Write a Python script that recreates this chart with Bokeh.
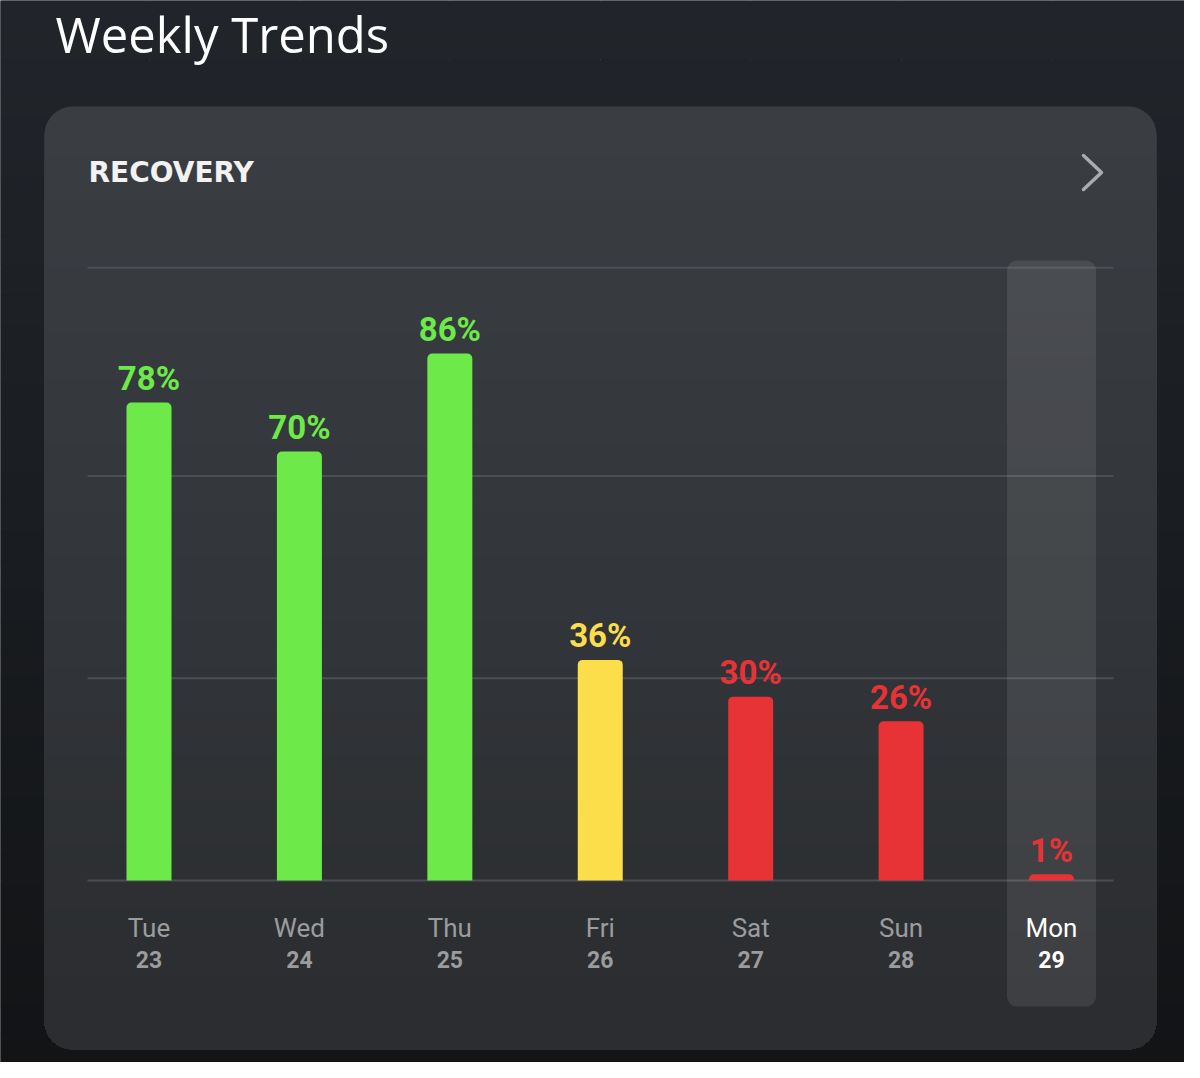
from bokeh.plotting import figure
from bokeh.models import Range1d, ColumnDataSource, Label
from bokeh.core.properties import value
from bokeh.embed import file_html
from bokeh.resources import INLINE

# ---------------- data ----------------
days = ["Tue", "Wed", "Thu", "Fri", "Sat", "Sun", "Mon"]
dates = ["23", "24", "25", "26", "27", "28", "29"]
recovery = [78, 70, 86, 36, 30, 26, 1]
grid_levels = [0, 33, 66, 100]
highlight_day = "Mon"
title_text = "Weekly Trends"
card_title = "RECOVERY"

# ---------------- layout helpers (reference pixels -> data) ----------------
W, H = 1184, 1062
PX_PER_PCT = 6.128
BASE_Y = 880
STEP = 150.42
FIRST_X = 148.5


def dx(X):
    return (X - FIRST_X) / STEP


def dy(Y):
    return (BASE_Y - Y) / PX_PER_PCT


def lerp_hex(c1, c2, t):
    a = [int(c1[i:i + 2], 16) for i in (1, 3, 5)]
    b = [int(c2[i:i + 2], 16) for i in (1, 3, 5)]
    return "#" + "".join("%02x" % round(a[k] + (b[k] - a[k]) * t) for k in range(3))


def zone_color(v):
    if v >= 67:
        return "#6de94a"
    if v >= 34:
        return "#fcdd4a"
    return "#e73336"


xpos = list(range(len(days)))
hi_pos = days.index(highlight_day)

p = figure(
    width=W, height=H,
    x_range=Range1d(dx(0), dx(W)),
    y_range=Range1d(dy(H), dy(0)),
    output_backend="svg", toolbar_location=None, min_border=0,
    x_axis_location=None, y_axis_location=None,
)
p.outline_line_color = None
p.background_fill_color = "#1a1d21"
p.border_fill_color = "#1a1d21"

# page background gradient
n_bg = 36
bg_edges = [k * H / n_bg for k in range(n_bg + 1)]
p.quad(left=dx(0) - 1, right=dx(W) + 1,
       top=[dy(bg_edges[k]) + 0.05 for k in range(n_bg)],
       bottom=[dy(bg_edges[k + 1]) for k in range(n_bg)],
       fill_color=[lerp_hex("#21252b", "#121416", k / (n_bg - 1)) for k in range(n_bg)],
       line_color=None)

# card with vertical gradient
cl, cr, ct, cb, rad = 44, 1156, 106, 1049, 28
n_card = 40
c_top, c_bot = "#3a3e43", "#2a2c2f"
p.quad(left=dx(cl), right=dx(cr), top=dy(ct), bottom=dy(cb),
       fill_color=c_top, line_color=None, border_radius=rad)
start = ct + rad
tops = [start + k * (cb - rad - start) / n_card for k in range(n_card)]
p.quad(left=dx(cl), right=dx(cr),
       top=[dy(t) for t in tops], bottom=dy(cb),
       fill_color=[lerp_hex(c_top, c_bot, (t - ct) / (cb - ct)) for t in tops],
       line_color=None, border_radius=(0, 0, rad, rad))

# grid lines
p.segment(x0=dx(87), x1=dx(1113), y0=grid_levels, y1=grid_levels,
          line_color="#4b4f54", line_width=2)

# highlight for the current day
p.vbar(x=[hi_pos], width=89 / STEP, top=dy(260), bottom=dy(1006),
       fill_color="#ffffff", fill_alpha=0.09, line_color=None, border_radius=10)

# bars
src = ColumnDataSource(dict(
    x=xpos,
    day=days,
    date=dates,
    value=recovery,
    label=["%d%%" % v for v in recovery],
    color=[zone_color(v) for v in recovery],
    day_color=["#ffffff" if d == highlight_day else "#9b9c9e" for d in days],
))
p.vbar(x="x", top="value", bottom=0, width=45 / STEP, source=src,
       fill_color="color", line_color=None, border_radius=(5, 5, 0, 0))

# value labels
p.text(x="x", y="value", text="label", source=src, text_color="color",
       text_font=value("Roboto"), text_font_style="bold", text_font_size="33px",
       text_align="center", text_baseline="alphabetic", y_offset=-24)

# day / date labels
p.text(x="x", y=0, text="day", source=src, text_color="day_color",
       text_font=value("Roboto"), text_font_size="26px",
       text_align="center", text_baseline="alphabetic", y_offset=47)
p.text(x="x", y=0, text="date", source=src, text_color="day_color",
       text_font=value("Roboto"), text_font_style="bold", text_font_size="23px",
       text_align="center", text_baseline="alphabetic", y_offset=79)

# titles
p.add_layout(Label(x=dx(55), y=dy(33), text=title_text, text_color="#ffffff",
                   text_font="Open Sans", text_font_size="49px",
                   text_align="left", text_baseline="alphabetic"))
p.add_layout(Label(x=dx(88), y=dy(172), text=card_title, text_color="#f2f2f2",
                   text_font="DejaVu Sans", text_font_style="bold", text_font_size="28px",
                   text_align="left", text_baseline="alphabetic"))

# chevron
p.line(x=[dx(1083), dx(1101), dx(1083)], y=[dy(155), dy(172), dy(189)],
       line_color="#a9abad", line_width=3.5, line_cap="round", line_join="round")

open("out.html", "w").write(file_html(p, INLINE))
